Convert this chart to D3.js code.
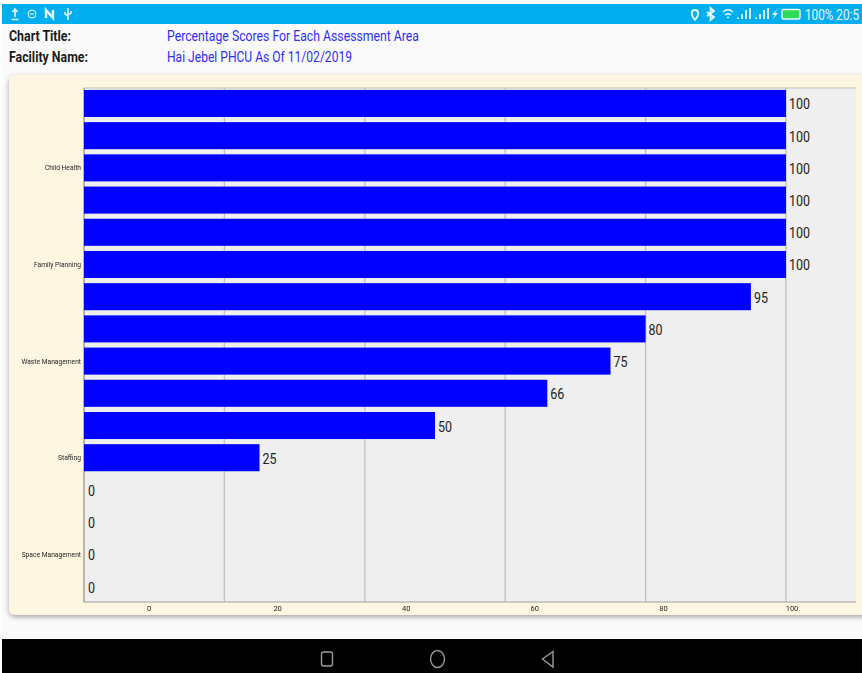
<!DOCTYPE html>
<html>
<head>
<meta charset="utf-8">
<script src="https://cdn.jsdelivr.net/npm/d3@7"></script>
<style>
html,body{margin:0;padding:0;background:#fff;overflow:hidden}
text{font-family:Roboto,sans-serif}
</style>
</head>
<body>
<svg id="screen" width="862" height="673"></svg>
<script>
// Assessment areas, top to bottom; only every third row carries a printed name
const categories = ["a1","a2","Child Health","a4","a5","Family Planning","a7","a8","Waste Management","a10","a11","Staffing","a13","a14","Space Management","a16"];
const scores = [100,100,100,100,100,100,95,80,75,66,50,25,0,0,0,0];
const gridTicks = [0,20,40,60,80,100];
const headerLabels = ["Chart Title:","Facility Name:"];
const headerValues = ["Percentage Scores For Each Assessment Area","Hai Jebel PHCU As Of 11/02/2019"];
const printedCategories = ["Child Health","Family Planning","Waste Management","Staffing","Space Management"];

const svg = d3.select("#screen");
const defs = svg.append("defs");
const shadow = defs.append("filter").attr("id","cardShadow").attr("x","-5%").attr("y","-5%").attr("width","110%").attr("height","110%");
shadow.append("feDropShadow").attr("dx",0).attr("dy",2).attr("stdDeviation",2.5).attr("flood-color","#000").attr("flood-opacity",0.35);

// Screen chrome
svg.append("rect").attr("x",2).attr("y",24).attr("width",860).attr("height",615).attr("fill","#fafafa");
svg.append("rect").attr("x",2).attr("y",4).attr("width",860).attr("height",20).attr("fill","#03aeef");
svg.append("rect").attr("x",2).attr("y",639).attr("width",860).attr("height",34).attr("fill","#000");

// Status bar icons on the left
const st = svg.append("g").attr("fill","none").attr("stroke","#e8f8ff");
st.append("path").attr("d","M15 9 L15 17 M12.5 12 L15 9 L17.5 12 M11.5 19.5 L18.5 19.5").attr("stroke-width",1.6);
st.append("circle").attr("cx",32).attr("cy",14).attr("r",4).attr("stroke-width",1);
st.append("path").attr("d","M29.5 14 L34.5 14").attr("stroke-width",1);
st.append("path").attr("d","M46 18 L46 10 L53 18 L53 10").attr("stroke-width",2.4);
st.append("path").attr("d","M68 8 L68 20 M65 12 L65 14 L68 16 M71 11 L71 13 L68 15").attr("stroke-width",1.5);

// Status bar icons on the right
const sr = svg.append("g").attr("fill","none").attr("stroke","#e8f8ff");
sr.append("path").attr("d","M695 20 C690.5 15 691 10 695 10 C699 10 699.5 15 695 20 Z").attr("stroke-width",1.8);
sr.append("path").attr("d","M707 12 L714 17 L710.5 20 L710.5 8 L714 11 L707 16").attr("stroke-width",1.8);
sr.append("path").attr("d","M723 12 Q728 7.5 733 12 M725 15 Q728 12.5 731 15 M727 17.5 L729 17.5").attr("stroke-width",1.5);
sr.append("path").attr("d","M738 19 L738 17.5 M742 19 L742 14 M746 19 L746 10 M750 19 L750 8 M756 19 L756 17.5 M760 19 L760 14 M764 19 L764 10 M768 19 L768 8").attr("stroke-width",1.8);
sr.append("path").attr("d","M778 8 L772 15 L775 15 L772 20 L778 13 L775 13 Z").attr("fill","#e8f8ff").attr("stroke","none");
sr.append("rect").attr("x",782).attr("y",9.5).attr("width",18).attr("height",9.5).attr("rx",1.5).attr("fill","#2fdc57").attr("stroke-width",1.4);
svg.append("text").attr("x",805).attr("y",19.5).attr("font-size",14).attr("fill","#e8f8ff")
  .attr("textLength",54).attr("lengthAdjust","spacingAndGlyphs").text("100% 20:5");

// Navigation bar icons
const nav = svg.append("g").attr("fill","none").attr("stroke","#9a9a9a").attr("stroke-width",1.4);
nav.append("rect").attr("x",321.5).attr("y",652).attr("width",11).attr("height",14).attr("rx",2);
nav.append("ellipse").attr("cx",437.5).attr("cy",659).attr("rx",7).attr("ry",8.5);
nav.append("path").attr("d","M553 651.5 L553 667 L542.5 659 Z");

// Report header
const fitText = (sel,widths) => sel.attr("textLength",(d,i)=>widths[i]).attr("lengthAdjust","spacingAndGlyphs");
fitText(svg.selectAll(".hl").data(headerLabels).join("text").attr("class","hl")
  .attr("x",9).attr("y",(d,i)=>41+i*21).attr("font-size",15).attr("font-weight",700).attr("fill","#1a1a1a").text(d=>d),[62,79]);
fitText(svg.selectAll(".hv").data(headerValues).join("text").attr("class","hv")
  .attr("x",167).attr("y",(d,i)=>41+i*21).attr("font-size",15).attr("fill","#2f2ff0").text(d=>d),[252,185]);

// Chart card
svg.append("rect").attr("x",9).attr("y",75).attr("width",860).attr("height",540).attr("rx",6)
  .attr("fill","#fdf6e1").attr("filter","url(#cardShadow)");

const plot = {left:84,right:856,top:88,bottom:602};
const x = d3.scaleLinear().domain([0,100]).range([plot.left,786]);
const y = d3.scaleBand().domain(categories).range([plot.top,plot.bottom]).paddingInner(0.16).paddingOuter(0.06);
// The tick labels sit on their own, narrower spacing below the grid
const xLabel = d3.scaleLinear().domain([0,100]).range([148.5,791.5]);

svg.append("rect").attr("x",plot.left).attr("y",plot.top).attr("width",plot.right-plot.left).attr("height",plot.bottom-plot.top).attr("fill","#efefef");
svg.selectAll(".grid").data(gridTicks.slice(1)).join("line").attr("class","grid")
  .attr("x1",d=>x(d)).attr("x2",d=>x(d)).attr("y1",plot.top).attr("y2",plot.bottom)
  .attr("stroke","#c3c3c3").attr("stroke-width",1.4);
svg.append("path").attr("d",`M${plot.left} ${plot.bottom} L${plot.left} ${plot.top} L${plot.right} ${plot.top}`).attr("fill","none").attr("stroke","#c0c0c0").attr("stroke-width",1.2);
svg.append("path").attr("d",`M${plot.left} ${plot.top} L${plot.left} ${plot.bottom} L${plot.right} ${plot.bottom}`).attr("fill","none").attr("stroke","#a0a0a0").attr("stroke-width",1.2);

const rows = categories.map((c,i)=>({c,v:scores[i]}));
svg.selectAll(".bar").data(rows).join("rect").attr("class","bar")
  .attr("x",x(0)).attr("y",d=>y(d.c)).attr("width",d=>x(d.v)-x(0)).attr("height",y.bandwidth()).attr("fill","#0000ff");
svg.selectAll(".val").data(rows).join("text").attr("class","val")
  .attr("x",d=>x(d.v)+(d.v===0?4:3)).attr("y",d=>y(d.c)+y.bandwidth()/2+6).attr("font-size",14).attr("fill","#222")
  .attr("textLength",d=>String(d.v).length*7).attr("lengthAdjust","spacingAndGlyphs").text(d=>d.v);

// Axes: names on the left, scores along the bottom
const yAxis = d3.axisLeft(y).tickSize(0).tickPadding(3).tickFormat(d=>printedCategories.includes(d)?d:"");
const gy = svg.append("g").attr("transform",`translate(${plot.left},0)`).attr("opacity",0.99).call(yAxis);
gy.select(".domain").remove();
gy.selectAll("text").attr("font-size",7.5).attr("fill","#222").style("font-family","Roboto,sans-serif")
  .each(function(){
    // Narrow the names to the tighter set width of the axis labels
    const w = this.getComputedTextLength();
    if (w > 0) d3.select(this).attr("textLength",w*0.89).attr("lengthAdjust","spacingAndGlyphs");
  });

const xAxis = d3.axisBottom(xLabel).tickValues(gridTicks).tickSize(0).tickPadding(4);
const gx = svg.append("g").attr("transform",`translate(0,${plot.bottom})`).attr("opacity",0.99).call(xAxis);
gx.select(".domain").remove();
gx.selectAll("text").attr("font-size",7.5).attr("fill","#222").style("font-family","Roboto,sans-serif");
</script>
</body>
</html>
